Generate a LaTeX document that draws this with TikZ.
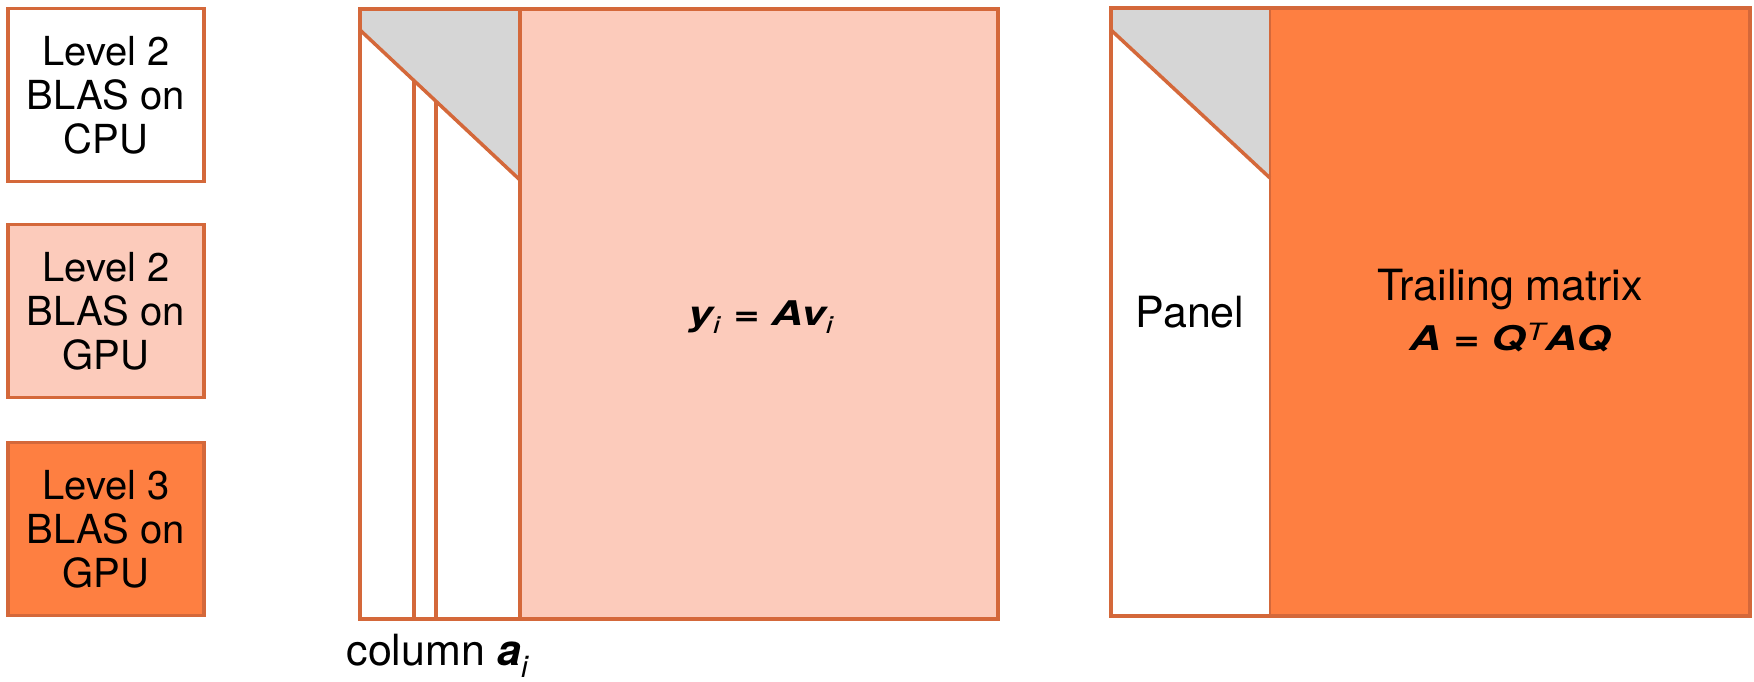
\documentclass[tikz,border=0pt]{standalone}
\usepackage{fontspec}
\usepackage{graphicx}
\setmainfont{TeX Gyre Heros}
\definecolor{edgec}{RGB}{212,104,58}
\definecolor{pinkc}{RGB}{252,203,187}
\definecolor{orangec}{RGB}{254,127,65}
\definecolor{grayc}{RGB}{214,214,214}
\begin{document}
\begin{tikzpicture}[x=1pt,y=-1pt,
  legendbox/.style={draw=edgec, line width=3.5pt, minimum width=196pt, minimum height=173pt,
    align=center, inner sep=0pt, font=\fontsize{40}{44}\selectfont},
  edgeline/.style={draw=edgec, line width=3.5pt, line join=miter},
  thinedge/.style={draw=edgec, line width=2.5pt},
  lbl/.style={inner sep=0pt, anchor=base, font=\fontsize{43}{50}\selectfont},
  eqlbl/.style={inner sep=0pt, anchor=base, font=\fontsize{34}{40}\selectfont\bfseries\itshape}]
\useasboundingbox (0,0) rectangle (1754,682);
% legend
\node[legendbox, fill=white]   (lcpu)  at (106,95)  {Level 2\\BLAS on\\CPU};
\node[legendbox, fill=pinkc]   (lgpu2) at (106,311) {Level 2\\BLAS on\\GPU};
\node[legendbox, fill=orangec] (lgpu3) at (106,529) {Level 3\\BLAS on\\GPU};
% middle matrix
\coordinate (m1) at (360,9);
\coordinate (m2) at (998,619);
\coordinate (ms) at (520,9);
\coordinate (msb) at (520,619);
\coordinate (md1) at (360,30);
\coordinate (md2) at (520,180);
\fill[white] (m1) rectangle (msb);
\fill[grayc] (m1) -- (ms) -- (md2) -- (md1) -- cycle;
\fill[pinkc] (ms) rectangle (m2);
\coordinate (c1t) at (414,80.6);
\coordinate (c1b) at (414,619);
\coordinate (c2t) at (436,101.3);
\coordinate (c2b) at (436,619);
\draw[edgeline] (c1t) -- (c1b);
\draw[edgeline] (c2t) -- (c2b);
\draw[edgeline] (md1) -- (md2);
\draw[edgeline] (ms) -- (msb);
\draw[edgeline] (m1) rectangle (m2);
% right matrix
\coordinate (r1) at (1111,8);
\coordinate (r2) at (1750,616);
\coordinate (rs) at (1270,8);
\coordinate (rsb) at (1270,616);
\coordinate (rd1) at (1111,30);
\coordinate (rd2) at (1270,178);
\fill[white] (r1) rectangle (rsb);
\fill[grayc] (r1) -- (rs) -- (rd2) -- (rd1) -- cycle;
\fill[orangec] (rs) rectangle (r2);
\draw[thinedge] (rs) -- (rsb);
\draw[edgeline] (rd1) -- (rd2);
\draw[edgeline] (r1) rectangle (r2);
% labels
\node[eqlbl] (yeq) at (761,325) {\scalebox{1.3}[1]{y\textsubscript{\mdseries i} = Av\textsubscript{\mdseries i}}};
\node[lbl] (col) at (438,665) {column \textbf{\textit{a}}\textsubscript{\textit{i}}};
\node[lbl] (pan) at (1190,327) {Panel};
\node[lbl] (trail) at (1510,300) {Trailing matrix};
\node[eqlbl] (aeq) at (1510,350) {\scalebox{1.3}[1]{A = Q\textsuperscript{\mdseries T}AQ}};
\end{tikzpicture}
\end{document}
